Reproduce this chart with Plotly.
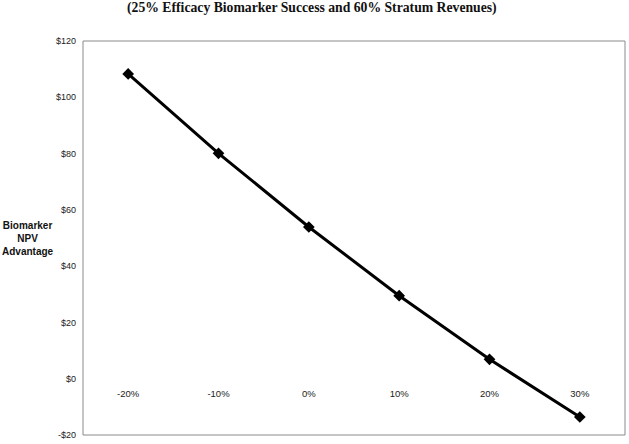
import plotly.graph_objects as go

categories = ["-20%", "-10%", "0%", "10%", "20%", "30%"]
npv_advantage = [108.3, 80.1, 53.9, 29.5, 6.9, -13.6]
y_ticks = [-20, 0, 20, 40, 60, 80, 100, 120]
y_tick_labels = ["-$20", "$0", "$20", "$40", "$60", "$80", "$100", "$120"]
title_text = "(25% Efficacy Biomarker Success and 60% Stratum Revenues)"
y_title_lines = ["Biomarker", "NPV", "Advantage"]

y_min, y_max = -20, 120

fig = go.Figure()
fig.add_trace(go.Scatter(
    x=categories, y=npv_advantage, mode="lines+markers",
    line=dict(color="black", width=3),
    marker=dict(symbol="diamond", size=9, color="black"),
    showlegend=False,
))

fig.update_layout(
    width=629, height=444,
    margin=dict(l=83, r=4, t=41, b=7),
    paper_bgcolor="white", plot_bgcolor="white",
    font=dict(family="Liberation Sans, Arial", size=9, color="#222"),
    xaxis=dict(
        type="category", categoryorder="array", categoryarray=categories,
        tickvals=categories, ticktext=categories,
        anchor="free", position=(0 - y_min) / (y_max - y_min),
        showline=False, showgrid=False, zeroline=False, ticks="",
        ticklabelstandoff=8, range=[-0.5, 5.5],
        tickfont=dict(size=9.5),
    ),
    yaxis=dict(
        range=[y_min, y_max], tickvals=y_ticks, ticktext=y_tick_labels,
        showgrid=False, zeroline=False, showline=False, ticks="",
        ticklabelstandoff=6,
    ),
    shapes=[dict(type="rect", xref="paper", yref="paper", x0=0, x1=1, y0=0, y1=1,
                 line=dict(color="#8a8a8a", width=1))],
    annotations=[
        dict(text="<b>" + title_text + "</b>", xref="paper", yref="paper",
             x=(312 - 83) / 542, y=1,
             yshift=33, showarrow=False, xanchor="center", yanchor="middle",
             font=dict(family="Liberation Serif, Times New Roman", size=13.7, color="#111")),
        dict(text="<br>".join("<b>" + s + "</b>" for s in y_title_lines),
             xref="paper", yref="paper",
             x=(28 - 83) / 542, y=(437 - 239) / 396, showarrow=False,
             xanchor="center", yanchor="middle", align="center",
             font=dict(family="Liberation Sans, Arial", size=10, color="#111")),
    ],
)

fig.write_html("out.html")
